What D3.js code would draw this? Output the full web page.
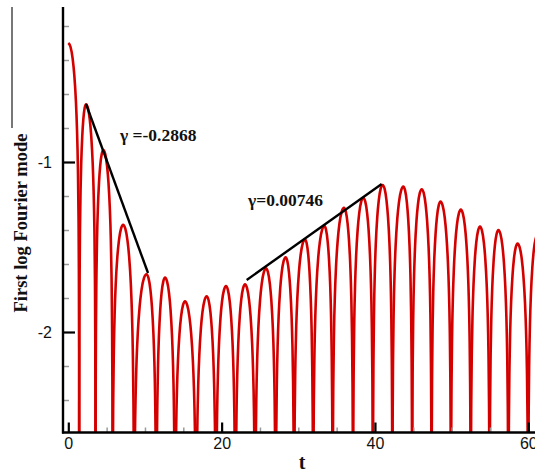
<!DOCTYPE html>
<html>
<head>
<meta charset="utf-8">
<script src="https://cdn.jsdelivr.net/npm/d3@7/dist/d3.min.js"></script>
<style>
  html, body { margin: 0; padding: 0; background: #fff; }
  svg { display: block; }
</style>
</head>
<body>
<svg id="chart" width="535" height="472"></svg>
<script>
// ---------------- data ----------------
// times where the signal crosses zero (log -> -infinity, cusps at the bottom)
const zeroTimes = [1.42, 3.55, 5.78, 8.58, 11.48, 13.92, 16.68, 19.26, 21.80, 24.37,
                   27.05, 29.45, 31.94, 34.48, 37.14, 39.73, 42.27, 44.85, 47.38, 49.91,
                   52.49, 54.95, 57.40, 59.98, 62.50];
// local maxima of each arch (first one is the start of the record, t = 0)
const peakTimes  = [0.00, 2.31, 4.57, 7.15, 10.20, 12.62, 15.22, 18.05, 20.57, 23.05,
                    25.79, 28.35, 30.87, 33.40, 35.96, 38.48, 41.00, 43.70, 46.10, 48.55,
                    51.20, 53.70, 56.10, 58.60, 61.20];
const peakValues = [-0.30, -0.66, -0.93, -1.37, -1.66, -1.68, -1.82, -1.79, -1.73, -1.72,
                    -1.626, -1.56, -1.455, -1.376, -1.27, -1.21, -1.135, -1.145, -1.16, -1.233,
                    -1.28, -1.38, -1.40, -1.48, -1.43];
// arch profile: drop below the peak (log units) vs fraction of the half-width
const archFraction = [0, 0.2, 0.4, 0.55, 0.7, 0.8, 0.88, 0.94, 0.97, 0.99, 1];
const archDrop     = [0, 0.022, 0.092, 0.188, 0.343, 0.51, 0.728, 1.026, 1.327, 1.80, 4.0];

// fitted growth-rate lines
const fit1 = { t: [2.31, 10.40], v: [-0.659, -1.653], label: "\u03b3 =-0.2868" };
const fit2 = { t: [23.27, 40.88], v: [-1.694, -1.129], label: "\u03b3=0.00746" };

const xMajorTicks = [0, 20, 40, 60];
const xMinorTicks = [5, 10, 15, 25, 30, 35, 45, 50, 55];
const yMajorTicks = [-1, -2];
const yMinorTicks = [-0.2, -0.4, -0.6, -0.8, -1.2, -1.4, -1.6, -1.8, -2.2, -2.4];
const xTitle = "t";
const yTitle = "First log Fourier mode";

// ---------------- layout ----------------
const svg = d3.select("#chart");
const axisLeftX = 63, plotTop = 7, axisBottomY = 432.5, plotRight = 545;

const x = d3.scaleLinear().domain([0, 60]).range([68.3, 528.3]);
const y = d3.scaleLinear().domain([-2, -1]).range([332, 162]);

svg.append("defs").append("clipPath").attr("id", "plotclip")
  .append("rect").attr("x", axisLeftX).attr("y", 0)
  .attr("width", plotRight - axisLeftX).attr("height", axisBottomY - 0);

// stray frame line at the far left of the original figure
svg.append("line").attr("x1", 12).attr("x2", 12).attr("y1", 7).attr("y2", 128)
  .attr("stroke", "#555").attr("stroke-width", 1.6);

// ---------------- curve ----------------
const line = d3.line().x(d => x(d[0])).y(d => y(d[1])).curve(d3.curveMonotoneX);
const curveG = svg.append("g").attr("clip-path", "url(#plotclip)");

peakTimes.forEach((tp, i) => {
  const vp = peakValues[i];
  const pts = [];
  if (i > 0) {
    const zl = zeroTimes[i - 1];
    for (let k = archFraction.length - 1; k > 0; k--) {
      pts.push([tp - archFraction[k] * (tp - zl), vp - archDrop[k]]);
    }
  }
  const zr = zeroTimes[i];
  for (let k = 0; k < archFraction.length; k++) {
    pts.push([tp + archFraction[k] * (zr - tp), vp - archDrop[k]]);
  }
  curveG.append("path").attr("d", line(pts))
    .attr("fill", "none").attr("stroke", "#d40000").attr("stroke-width", 2.6)
    .attr("stroke-linejoin", "round");
});

// ---------------- fit lines ----------------
[fit1, fit2].forEach(f => {
  svg.append("line")
    .attr("x1", x(f.t[0])).attr("y1", y(f.v[0]))
    .attr("x2", x(f.t[1])).attr("y2", y(f.v[1]))
    .attr("stroke", "#000").attr("stroke-width", 2.4);
});
const serif = "Liberation Serif, Times New Roman, serif";
svg.append("text").attr("x", 120).attr("y", 141)
  .attr("font-family", serif)
  .attr("font-weight", "bold").attr("font-size", 17.5).attr("fill", "#111")
  .text(fit1.label);
svg.append("text").attr("x", 248).attr("y", 206)
  .attr("font-family", serif)
  .attr("font-weight", "bold").attr("font-size", 17.5).attr("fill", "#111")
  .text(fit2.label);

// ---------------- axes ----------------
const fontSans = "Liberation Sans, Arial, Helvetica, sans-serif";

// minor ticks
const xMinorAxis = d3.axisBottom(x).tickValues(xMinorTicks).tickSize(-5).tickFormat("");
const gxm = svg.append("g").attr("transform", `translate(0,${axisBottomY})`).call(xMinorAxis);
gxm.select(".domain").remove();
gxm.selectAll("line").attr("stroke", "#999").attr("stroke-width", 1.5);

const yMinorAxis = d3.axisLeft(y).tickValues(yMinorTicks).tickSize(-6).tickFormat("");
const gym = svg.append("g").attr("transform", `translate(${axisLeftX},0)`).call(yMinorAxis);
gym.select(".domain").remove();
gym.selectAll("line").attr("stroke", "#999").attr("stroke-width", 1.5);

// major ticks
const plainFormat = d => String(d);
const xAxis = d3.axisBottom(x).tickValues(xMajorTicks).tickSize(-10).tickPadding(5).tickFormat(plainFormat);
const gx = svg.append("g").attr("transform", `translate(0,${axisBottomY})`).call(xAxis);
gx.select(".domain").remove();
gx.selectAll("line").attr("stroke", "#000").attr("stroke-width", 2.2);
gx.selectAll("text").attr("font-family", fontSans).attr("font-size", 16).attr("fill", "#111");

const yAxis = d3.axisLeft(y).tickValues(yMajorTicks).tickSize(-12).tickPadding(11).tickFormat(plainFormat);
const gy = svg.append("g").attr("transform", `translate(${axisLeftX},0)`).call(yAxis);
gy.select(".domain").remove();
gy.selectAll("line").attr("stroke", "#000").attr("stroke-width", 2.2);
gy.selectAll("text").attr("font-family", fontSans).attr("font-size", 16).attr("fill", "#111");

// axis lines
svg.append("line").attr("x1", axisLeftX).attr("x2", axisLeftX)
  .attr("y1", plotTop).attr("y2", axisBottomY + 1)
  .attr("stroke", "#000").attr("stroke-width", 2.4);
svg.append("line").attr("x1", axisLeftX - 1).attr("x2", plotRight)
  .attr("y1", axisBottomY).attr("y2", axisBottomY)
  .attr("stroke", "#000").attr("stroke-width", 2.4);

// axis titles
svg.append("text").attr("x", 302).attr("y", 469).attr("text-anchor", "middle")
  .attr("font-family", serif)
  .attr("font-weight", "bold").attr("font-size", 20).attr("fill", "#111")
  .text(xTitle);
svg.append("text").attr("transform", "translate(27,223) rotate(-90)")
  .attr("text-anchor", "middle")
  .attr("font-family", serif)
  .attr("font-weight", "bold").attr("font-size", 18.5).attr("fill", "#111")
  .text(yTitle);
</script>
</body>
</html>
